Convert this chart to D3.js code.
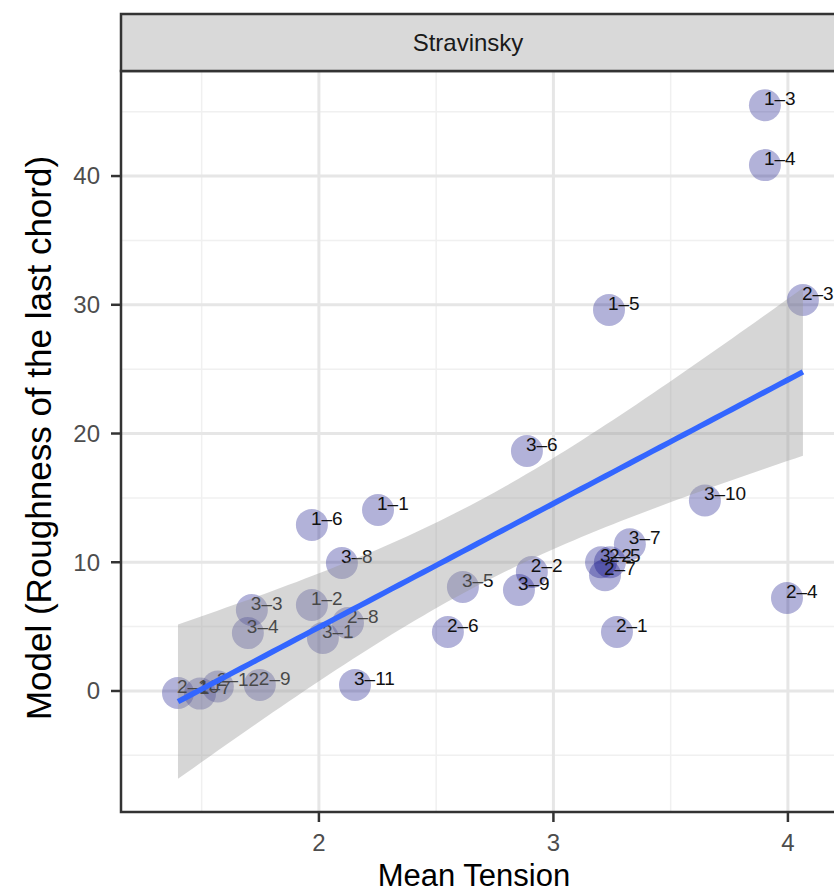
<!DOCTYPE html>
<html>
<head>
<meta charset="utf-8">
<script src="https://cdn.jsdelivr.net/npm/d3@7"></script>
<style>
  body { margin: 0; background: #fff; }
  text { font-family: "Liberation Sans", Arial, Helvetica, sans-serif; }
</style>
</head>
<body>
<div id="chart"></div>
<script>
var svgWidth = 834;
var svgHeight = 894;

// panel box (the right side runs past the window, as in the cropped original)
var margin = { top: 71, right: -16, bottom: 82, left: 121 };
var stripHeight = 57;

var width = svgWidth - margin.left - margin.right;
var height = svgHeight - margin.top - margin.bottom;

// piece labels, mean tension (x) and model roughness (y)
var pieces = ["1–1", "1–2", "1–3", "1–4", "1–5", "1–6", "1–7",
    "2–1", "2–2", "2–3", "2–4", "2–5", "2–6", "2–7", "2–8", "2–9", "2–10", "2–12",
    "3–1", "3–2", "3–3", "3–4", "3–5", "3–6", "3–7", "3–8", "3–9", "3–10", "3–11"];
var tension = [2.252, 1.970, 3.902, 3.902, 3.237, 1.970, 1.493,
    3.271, 2.908, 4.064, 3.996, 3.241, 2.550, 3.220, 2.124, 1.748, 1.399, 1.569,
    2.017, 3.203, 1.714, 1.697, 2.614, 2.887, 3.326, 2.098, 2.853, 3.646, 2.154];
var roughness = [14.06, 6.68, 45.5, 40.85, 29.6, 12.9, -0.2,
    4.58, 9.24, 30.37, 7.22, 10.0, 4.58, 9.0, 5.28, 0.47, -0.16, 0.35,
    4.12, 10.0, 6.29, 4.5, 8.08, 18.64, 11.4, 9.94, 7.84, 14.8, 0.47];

var xTicks = [2, 3, 4];
var xMinor = [1.5, 2.5, 3.5];
var yTicks = [0, 10, 20, 30, 40];
var yMinor = [-5, 5, 15, 25, 35, 45];

var facetLabel = "Stravinsky";
var xTitle = "Mean Tension";
var yTitle = "Model (Roughness of the last chord)";

var data = pieces.map(function (p, i) {
    return { piece: p, x: tension[i], y: roughness[i] };
});

var svg = d3.select("#chart")
    .append("svg")
    .attr("width", svgWidth)
    .attr("height", svgHeight);

var xScale = d3.scaleLinear()
    .domain([1.156, 1.156 + width / 234.5])
    .range([0, width]);

var yScale = d3.scaleLinear()
    .domain([-9.4, 48.16])
    .range([height, 0]);

var chartGroup = svg.append("g")
    .attr("transform", `translate(${margin.left}, ${margin.top})`);

// grid
chartGroup.append("rect")
    .attr("width", width).attr("height", height)
    .attr("fill", "#fff");

chartGroup.selectAll("line.minorx").data(xMinor).enter().append("line")
    .attr("x1", d => xScale(d)).attr("x2", d => xScale(d))
    .attr("y1", 0).attr("y2", height)
    .attr("stroke", "#f0f0f0").attr("stroke-width", 1.5);
chartGroup.selectAll("line.minory").data(yMinor).enter().append("line")
    .attr("y1", d => yScale(d)).attr("y2", d => yScale(d))
    .attr("x1", 0).attr("x2", width)
    .attr("stroke", "#f0f0f0").attr("stroke-width", 1.5);
chartGroup.selectAll("line.majorx").data(xTicks).enter().append("line")
    .attr("x1", d => xScale(d)).attr("x2", d => xScale(d))
    .attr("y1", 0).attr("y2", height)
    .attr("stroke", "#e6e6e6").attr("stroke-width", 3);
chartGroup.selectAll("line.majory").data(yTicks).enter().append("line")
    .attr("y1", d => yScale(d)).attr("y2", d => yScale(d))
    .attr("x1", 0).attr("x2", width)
    .attr("stroke", "#e6e6e6").attr("stroke-width", 3);

// linear fit with 95% band (like geom_smooth(method = "lm"))
var n = data.length;
var mx = d3.mean(data, d => d.x);
var my = d3.mean(data, d => d.y);
var sxx = d3.sum(data, d => (d.x - mx) * (d.x - mx));
var sxy = d3.sum(data, d => (d.x - mx) * (d.y - my));
var slope = sxy / sxx;
var icept = my - slope * mx;
var sse = d3.sum(data, d => Math.pow(d.y - (icept + slope * d.x), 2));
var s = Math.sqrt(sse / (n - 2));
var tcrit = 2.052;

var xlo = d3.min(data, d => d.x), xhi = d3.max(data, d => d.x);
var fit = d3.range(80).map(function (i) {
    var x = xlo + (xhi - xlo) * i / 79;
    var yhat = icept + slope * x;
    var se = s * Math.sqrt(1 / n + (x - mx) * (x - mx) / sxx);
    return { x: x, y: yhat, lo: yhat - tcrit * se, hi: yhat + tcrit * se };
});

chartGroup.append("clipPath").attr("id", "panelclip")
    .append("rect").attr("width", width).attr("height", height);

var plotArea = chartGroup.append("g").attr("clip-path", "url(#panelclip)");

// points and their labels
plotArea.selectAll("circle").data(data).enter().append("circle")
    .attr("cx", d => xScale(d.x))
    .attr("cy", d => yScale(d.y))
    .attr("r", 16)
    .attr("fill", "#000080")
    .attr("fill-opacity", 0.3);

plotArea.selectAll("text.lab").data(data).enter().append("text")
    .attr("class", "lab")
    .attr("x", d => xScale(d.x) - 1)
    .attr("y", d => yScale(d.y))
    .attr("font-size", 19)
    .attr("fill", "#111")
    .text(d => d.piece);

plotArea.append("path")
    .datum(fit)
    .attr("d", d3.area().x(d => xScale(d.x)).y0(d => yScale(d.lo)).y1(d => yScale(d.hi)))
    .attr("fill", "#999999")
    .attr("fill-opacity", 0.4);

plotArea.append("path")
    .datum(fit)
    .attr("d", d3.line().x(d => xScale(d.x)).y(d => yScale(d.y)))
    .attr("fill", "none")
    .attr("stroke", "#3366FF")
    .attr("stroke-width", 5.5);

// panel border
chartGroup.append("rect")
    .attr("width", width).attr("height", height)
    .attr("fill", "none")
    .attr("stroke", "#333").attr("stroke-width", 2.5);

// strip
var strip = svg.append("g")
    .attr("transform", `translate(${margin.left}, ${margin.top - stripHeight})`);
strip.append("rect")
    .attr("width", width).attr("height", stripHeight)
    .attr("fill", "#d9d9d9")
    .attr("stroke", "#333").attr("stroke-width", 2.5);
strip.append("text")
    .attr("x", 347)
    .attr("y", stripHeight / 2)
    .attr("dy", "0.35em")
    .attr("text-anchor", "middle")
    .attr("font-size", 24)
    .attr("fill", "#1a1a1a")
    .text(facetLabel);

// ticks
chartGroup.selectAll("line.xtick").data(xTicks).enter().append("line")
    .attr("x1", d => xScale(d)).attr("x2", d => xScale(d))
    .attr("y1", height).attr("y2", height + 10)
    .attr("stroke", "#333").attr("stroke-width", 2.5);
chartGroup.selectAll("text.xtick").data(xTicks).enter().append("text")
    .attr("x", d => xScale(d))
    .attr("y", height + 39)
    .attr("text-anchor", "middle")
    .attr("font-size", 24)
    .attr("fill", "#4d4d4d")
    .text(d => d);

chartGroup.selectAll("line.ytick").data(yTicks).enter().append("line")
    .attr("y1", d => yScale(d)).attr("y2", d => yScale(d))
    .attr("x1", -10).attr("x2", 0)
    .attr("stroke", "#333").attr("stroke-width", 2.5);
chartGroup.selectAll("text.ytick").data(yTicks).enter().append("text")
    .attr("x", -21)
    .attr("y", d => yScale(d))
    .attr("dy", "0.35em")
    .attr("text-anchor", "end")
    .attr("font-size", 24)
    .attr("fill", "#4d4d4d")
    .text(d => d);

// axis titles
svg.append("text")
    .attr("x", 474)
    .attr("y", 886)
    .attr("text-anchor", "middle")
    .attr("font-size", 31)
    .attr("fill", "#000")
    .text(xTitle);

svg.append("text")
    .attr("transform", "translate(51, 438) rotate(-90)")
    .attr("text-anchor", "middle")
    .attr("font-size", 35)
    .attr("fill", "#000")
    .text(yTitle);
</script>
</body>
</html>
